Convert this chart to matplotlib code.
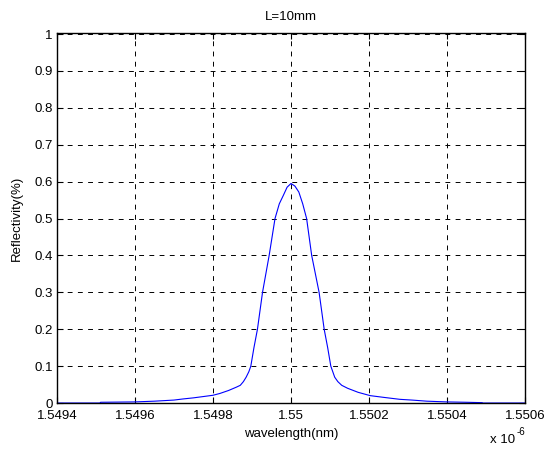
import matplotlib
matplotlib.use("Agg")
import matplotlib.pyplot as plt

plt.rcParams['font.family'] = ['Liberation Sans', 'DejaVu Sans']

# wavelength in units of 1e-6 m, reflectivity
wavelength = [1.54940, 1.54951, 1.549512, 1.54960, 1.54965, 1.54970, 1.549723,
              1.54975, 1.54980, 1.549818, 1.54984, 1.54986, 1.54987, 1.549878,
              1.549885, 1.549892, 1.549897, 1.549905, 1.549914, 1.549927,
              1.549944, 1.549959, 1.54997, 1.54998, 1.54999, 1.55000,
              1.55001, 1.55002, 1.55003, 1.55004, 1.550053, 1.550072,
              1.550085, 1.550094, 1.550102, 1.550107, 1.550112, 1.55012,
              1.55013, 1.550145, 1.550172, 1.550203, 1.55024, 1.550279,
              1.55031, 1.550348, 1.550399, 1.55045, 1.55049, 1.550492,
              1.55060]
reflectivity = [0, 0, 0.002, 0.003, 0.005, 0.008, 0.011,
                0.014, 0.021, 0.026, 0.034, 0.043, 0.048, 0.058,
                0.070, 0.085, 0.100, 0.150, 0.200, 0.300,
                0.400, 0.500, 0.540, 0.562, 0.585, 0.595,
                0.588, 0.572, 0.540, 0.500, 0.400, 0.300,
                0.200, 0.150, 0.100, 0.085, 0.070, 0.058,
                0.048, 0.040, 0.029, 0.020, 0.015, 0.010,
                0.008, 0.005, 0.003, 0.002, 0.001, 0,
                0]

x_ticks = [1.5494, 1.5496, 1.5498, 1.55, 1.5502, 1.5504, 1.5506]
y_ticks = [0, 0.1, 0.2, 0.3, 0.4, 0.5, 0.6, 0.7, 0.8, 0.9, 1]

fig = plt.figure(figsize=(5.47, 4.5), dpi=100)
ax = fig.add_axes([0.104, 0.1044, 0.856, 0.8223])

ax.plot(wavelength, reflectivity, color='#0000ff', linewidth=0.8)

ax.set_xlim(1.5494, 1.5506)
ax.set_ylim(0, 1.003)
ax.set_xticks(x_ticks)
ax.set_xticklabels(['%g' % t for t in x_ticks])
ax.set_yticks(y_ticks)
ax.set_yticklabels(['%g' % t for t in y_ticks])

ax.grid(True, color='black', linestyle=(0, (5, 5.5)), linewidth=0.7)
ax.tick_params(direction='in', length=4, width=0.8, labelsize=9.5,
               top=True, right=True, colors='black')
ax.tick_params(axis='x', pad=5)
ax.tick_params(axis='y', pad=3)
for sp in ax.spines.values():
    sp.set_linewidth(1.0)

ax.set_title('L=10mm', fontsize=9.5, pad=9)
ax.set_xlabel('wavelength(nm)', fontsize=9.5, labelpad=4)
ax.set_ylabel('Reflectivity(%)', fontsize=9.5, labelpad=8)

# MATLAB style exponent label under the right end of the x axis
fig.text(490 / 547, 1 - 440 / 450, 'x 10', fontsize=9.5, va='center')
fig.text(517 / 547, 1 - 432 / 450, '-6', fontsize=7, va='center')

fig.savefig('out.png', dpi=100)
